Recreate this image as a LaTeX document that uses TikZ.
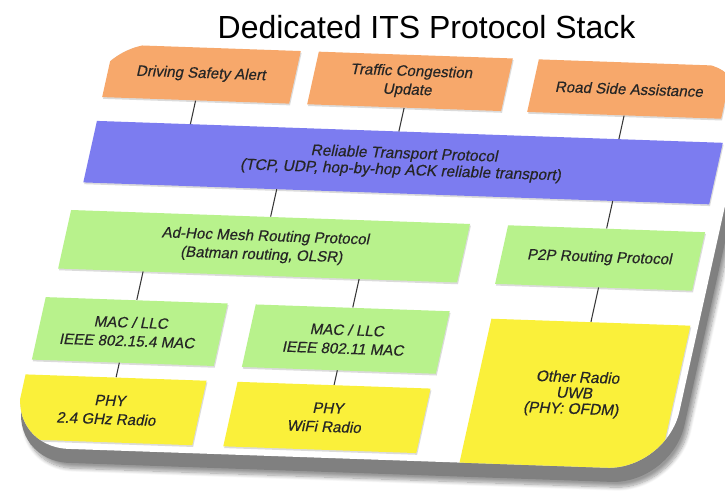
\documentclass[tikz,border=0pt]{standalone}
\usepackage{fontspec}
\setmainfont{Liberation Sans}
\newfontfamily\boxfont[FakeBold=0.45]{Liberation Sans}
\usetikzlibrary{shadows,shadows.blur}
\definecolor{orangebox}{RGB}{247,168,107}
\definecolor{bluebox}{RGB}{124,124,240}
\definecolor{greenbox}{RGB}{184,242,140}
\definecolor{yellowbox}{RGB}{250,240,58}
\definecolor{linecol}{RGB}{55,55,55}
\tikzset{
  layerbox/.style={rectangle, inner sep=2pt, align=center, transform shape,
    font=\boxfont\fontsize{8.6}{10.6}\selectfont, text=black!85,
    drop shadow={opacity=0.28, shadow xshift=0.5pt, shadow yshift=-1pt}},
  appbox/.style={layerbox, fill=orangebox},
  transbox/.style={layerbox, fill=bluebox},
  routebox/.style={layerbox, fill=greenbox},
  phybox/.style={layerbox, fill=yellowbox},
  connector/.style={draw=linecol, line width=0.6pt},
  panelshape/.style={rounded corners=1.2cm}
}
\begin{document}
\begin{tikzpicture}[x=0.02cm, y=-0.02cm]
\useasboundingbox (0,0) rectangle (725,491);
\node[font=\fontsize{18.2}{22}\selectfont, anchor=base, inner sep=0pt] (title) at (426.5,38) {Dedicated ITS Protocol Stack};
\begin{scope}[cm={1,-0.035,0.22,0.9923,(0.55cm,0.0508cm)}]
  % panel with bevel and shadow
  \fill[panelshape, black!50, blur shadow={shadow xshift=2pt, shadow yshift=-3pt, shadow blur steps=10, shadow opacity=40}]
    (84,50) rectangle (746,464);
  \fill[panelshape, white] (80,42) rectangle (738,450);
  \begin{scope}
    \clip[panelshape] (80,42) rectangle (738,450);
    \node[appbox, minimum width=3.74cm, minimum height=1.06cm] (o1) at (189.5,70.5) {Driving Safety Alert};
    \node[appbox, minimum width=3.88cm, minimum height=1.06cm] (o2) at (398,70.5) {Traffic Congestion\\Update};
    \node[appbox, minimum width=3.88cm, minimum height=1.06cm] (o3) at (618,70.5) {Road Side Assistance};
    \node[transbox, minimum width=12.52cm, minimum height=1.24cm, font=\boxfont\fontsize{8.8}{9.4}\selectfont] (rtp) at (409,152) {Reliable Transport Protocol\\(TCP, UDP, hop-by-hop ACK reliable transport)};
    \node[routebox, minimum width=7.98cm, minimum height=1.18cm] (adhoc) at (289.5,240.5) {Ad-Hoc Mesh Routing Protocol\\(Batman routing, OLSR)};
    \node[routebox, minimum width=3.94cm, minimum height=1.18cm] (p2p) at (625.5,240.5) {P2P Routing Protocol};
    \node[routebox, minimum width=3.64cm, minimum height=1.26cm] (mac1) at (175,330.5) {MAC / LLC\\IEEE 802.15.4 MAC};
    \node[routebox, minimum width=3.88cm, minimum height=1.26cm] (mac2) at (391,330.5) {MAC / LLC\\IEEE 802.11 MAC};
    \node[phybox, minimum width=3.98cm, minimum height=2.90cm, font=\boxfont\fontsize{8.8}{9}\selectfont] (other) at (630.5,377.5) {Other Radio\\UWB\\(PHY: OFDM)};
    \node[phybox, minimum width=3.62cm, minimum height=1.30cm] (phy1) at (171.5,409.5) {PHY\\2.4 GHz Radio};
    \node[phybox, minimum width=3.86cm, minimum height=1.30cm] (phy2) at (389.5,409.5) {PHY\\WiFi Radio};
  \end{scope}
  % connector ends on the edges of the upper boxes
  \coordinate (c1) at (189.5,121);
  \coordinate (c2) at (398,121);
  \coordinate (c3) at (618,121);
  \coordinate (c4) at (289.5,183);
  \coordinate (c5) at (625.5,183);
  \coordinate (c6) at (175,270);
  \coordinate (c7) at (391,270);
  \coordinate (c8) at (171.5,362);
  \coordinate (c9) at (389.5,362);
  \coordinate (c10) at (630.5,270);
  \draw[connector] (o1.south) -- (c1);
  \draw[connector] (o2.south) -- (c2);
  \draw[connector] (o3.south) -- (c3);
  \draw[connector] (adhoc.north) -- (c4);
  \draw[connector] (p2p.north) -- (c5);
  \draw[connector] (mac1.north) -- (c6);
  \draw[connector] (mac2.north) -- (c7);
  \draw[connector] (phy1.north) -- (c8);
  \draw[connector] (phy2.north) -- (c9);
  \draw[connector] (other.north) -- (c10);
\end{scope}
\end{tikzpicture}
\end{document}
